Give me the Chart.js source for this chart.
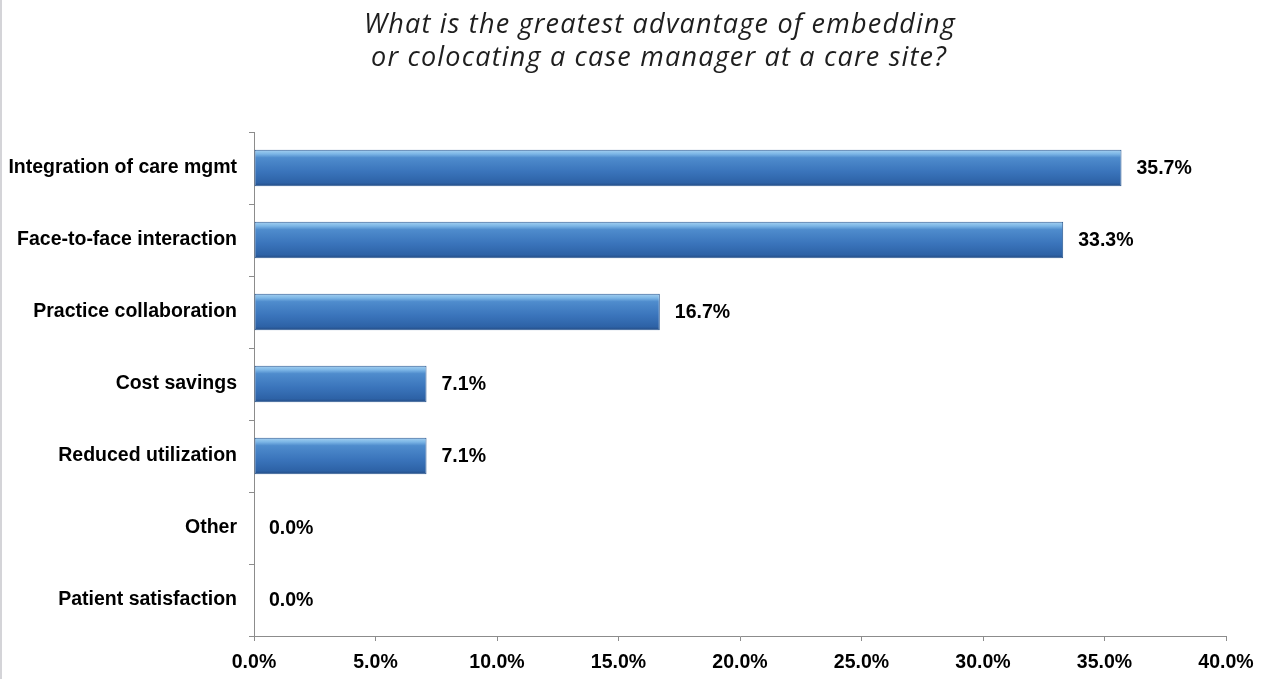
<!DOCTYPE html>
<html>
<head>
<meta charset="utf-8">
<script src="https://cdn.jsdelivr.net/npm/chart.js@4.4.1/dist/chart.umd.min.js"></script>
<style>
  html, body { margin: 0; padding: 0; background: #fff; }
  #wrap { width: 1270px; height: 679px; }
</style>
</head>
<body>
<div id="wrap"><canvas id="advantage"></canvas></div>
<script>
var categories = [
  "Integration of care mgmt",
  "Face-to-face interaction",
  "Practice collaboration",
  "Cost savings",
  "Reduced utilization",
  "Other",
  "Patient satisfaction"
];
var percents = [35.7, 33.3, 16.7, 7.1, 7.1, 0.0, 0.0];
var titleLines = [
  "What is the greatest advantage of embedding",
  "or colocating a case manager at a care site?"
];

var boldFamily = "'Liberation Sans', Arial, sans-serif";
var labelFont = "bold 19.5px " + boldFamily;

// glossy blue fill, one gradient per bar
function barFill(c) {
  var chart = c.chart;
  if (!chart.scales || !chart.scales.y || c.dataIndex === undefined) return "#3a75bd";
  var y = chart.scales.y.getPixelForValue(c.dataIndex);
  if (!isFinite(y)) return "#3a75bd";
  var h = 18.5;
  var g = chart.ctx.createLinearGradient(0, y - h, 0, y + h);
  g.addColorStop(0, "#a9d3f2");
  g.addColorStop(0.12, "#7cb6e6");
  g.addColorStop(0.22, "#4f8ccd");
  g.addColorStop(0.6, "#3a74bb");
  g.addColorStop(0.9, "#2d62a6");
  g.addColorStop(1, "#23497f");
  return g;
}

var valueLabels = {
  id: "valueLabels",
  afterDatasetsDraw: function (chart) {
    var ctx = chart.ctx;
    var meta = chart.getDatasetMeta(0);
    ctx.save();
    ctx.font = labelFont;
    ctx.fillStyle = "#000";
    ctx.textBaseline = "middle";
    ctx.textAlign = "left";
    meta.data.forEach(function (bar, i) {
      ctx.fillText(percents[i].toFixed(1) + "%", bar.x + 15, bar.y + 1);
    });
    ctx.restore();
  }
};

// two line italic heading, centred a bit right of the canvas middle
var heading = {
  id: "heading",
  afterDraw: function (chart) {
    var ctx = chart.ctx;
    ctx.save();
    ctx.font = "italic 27px 'Open Sans', sans-serif";
    if ("letterSpacing" in ctx) ctx.letterSpacing = "1.2px";
    ctx.fillStyle = "#1e1e1e";
    ctx.textAlign = "center";
    ctx.textBaseline = "alphabetic";
    ctx.fillText(titleLines[0], 660, 33);
    ctx.fillText(titleLines[1], 659, 66);
    ctx.restore();
  }
};

var leftEdge = {
  id: "leftEdge",
  beforeDraw: function (chart) {
    var ctx = chart.ctx;
    ctx.save();
    ctx.fillStyle = "#d4d4d8";
    ctx.fillRect(0, 0, 2, chart.height);
    ctx.restore();
  }
};

new Chart(document.getElementById("advantage"), {
  type: "bar",
  data: {
    labels: categories,
    datasets: [{
      data: percents,
      backgroundColor: barFill,
      borderColor: "#2c5a92",
      borderWidth: 1,
      borderSkipped: false,
      barPercentage: 0.51,
      categoryPercentage: 1.0
    }]
  },
  options: {
    indexAxis: "y",
    responsive: true,
    maintainAspectRatio: false,
    animation: false,
    layout: { padding: { top: 132, right: 44, left: 0, bottom: 0 } },
    plugins: {
      legend: { display: false },
      tooltip: { enabled: false },
      title: { display: false }
    },
    scales: {
      x: {
        min: 0,
        max: 40,
        ticks: {
          stepSize: 5,
          color: "#000",
          font: { family: boldFamily, size: 19.5, weight: "bold" },
          padding: 10,
          maxRotation: 0,
          callback: function (v) { return v.toFixed(1) + "%"; }
        },
        grid: { drawOnChartArea: false, drawTicks: true, tickLength: 5, color: "#8c8c8c" },
        border: { color: "#8c8c8c", width: 1 },
        afterFit: function (s) { s.height = 43; }
      },
      y: {
        ticks: {
          color: "#000",
          font: { family: boldFamily, size: 19.5, weight: "bold" },
          padding: 12
        },
        grid: { drawOnChartArea: false, drawTicks: true, tickLength: 5, color: "#8c8c8c", offset: true },
        border: { color: "#8c8c8c", width: 1 },
        afterFit: function (s) { s.width = 254; }
      }
    }
  },
  plugins: [leftEdge, valueLabels, heading]
});
</script>
</body>
</html>
